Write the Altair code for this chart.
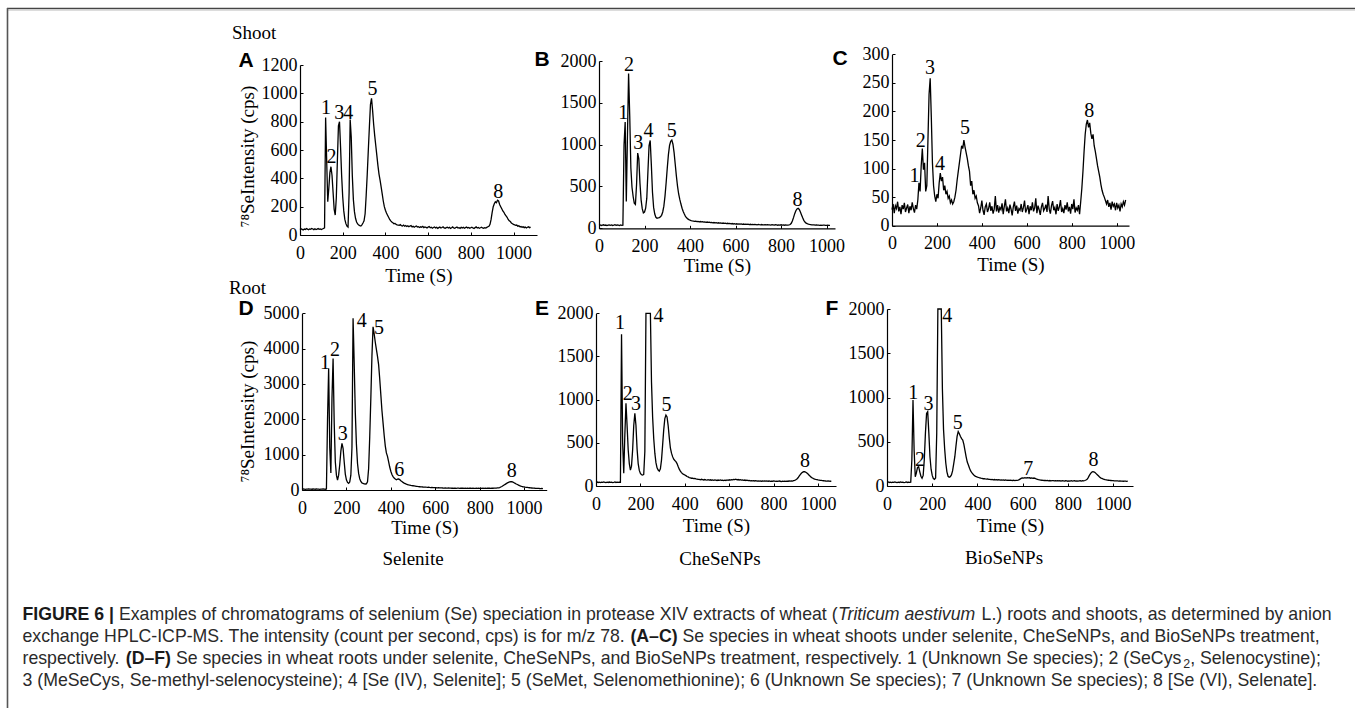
import altair as alt
import pandas as pd

STEP = 5

A_VALUES = [
    38, 44, 40, 36, 42, 39, 45, 41, 37, 43, 40, 46, 42, 38, 44, 39, 41, 45, 40, 43, 38, 42, 46,
    50, 830, 520, 235, 330, 440, 482, 420, 300, 180, 141, 260, 520, 770, 800, 620, 420, 270, 170, 110,
    80, 62, 56, 300, 815, 690, 420, 250, 165, 118, 92, 78, 70, 66, 63, 72, 85,
    100, 150, 280, 430, 600, 764, 920, 965, 880, 780, 700, 630, 560, 490, 430, 388, 340, 290, 240, 200,
    175, 155, 140, 125, 110, 100, 92, 86, 80, 82, 75, 72, 70,
    68, 73, 66, 64, 70, 62, 67, 60, 65, 58, 63, 66, 57, 61, 55, 60, 64, 56, 59, 53,
    58, 55, 61, 52, 57, 54, 50, 56, 59, 51, 55, 48, 53, 57, 50, 54, 47, 52, 56, 49,
    53, 58, 50, 47, 52, 55, 49, 54, 46, 51, 57, 50, 48, 53, 56, 49, 52, 47, 54, 50,
    55, 48, 52, 56, 49, 53, 47, 51, 55, 50, 46, 52, 57, 49, 53, 48, 51, 55, 50, 47, 52, 49, 54, 58,
    62, 75, 110, 160, 200, 220, 235, 228, 245, 240, 215, 200, 185, 170, 160, 145, 135, 125, 110, 100,
    95, 85, 80, 75, 72, 68, 70, 62, 65, 58, 60, 55, 58, 52, 56, 50, 55, 58, 52, 56,
]
B_VALUES = [
    36, 40, 34, 38, 42, 35, 39, 33, 37, 41, 36, 40, 34, 38, 43, 35, 39, 37, 33, 40, 36, 38,
    1000, 1270, 320, 1100, 1850, 1350, 720, 490, 380, 300, 285, 520, 900, 830, 540, 340, 235, 185, 195, 240,
    360, 680, 990, 1050, 760, 430, 250, 170, 132, 120, 124, 128, 138, 155, 195, 265, 385, 545, 720, 880,
    990, 1040, 1055, 1005, 905, 765, 625, 505, 410, 345, 290, 240, 200, 170, 142, 125, 112, 104, 98, 93,
    89, 87, 84, 86, 80, 82,
    78, 81, 76, 79, 74, 77, 72, 75, 70, 73, 68, 71, 66, 69, 65, 68, 63, 66, 62, 64,
    60, 63, 58, 61, 57, 60, 55, 58, 54, 57, 52, 55, 51, 54, 50, 53, 49, 52, 48, 51,
    47, 50, 46, 49, 45, 48, 44, 47, 43, 46, 45, 42, 46, 43, 41, 45, 42, 40, 44, 41,
    43, 40, 42, 39, 44, 41, 38, 42, 40, 37, 41, 39, 42, 38, 40, 37, 41, 39, 38, 40,
    45, 60, 90, 130, 175, 210, 232, 239, 225, 195, 160, 125, 95, 75, 62, 55, 50, 46, 44, 42,
    40, 41, 38, 40, 37, 39, 36, 38, 35, 37, 39, 36, 34, 37, 35, 36,
]
C_VALUES = [
    28, 38, 22, 35, 30, 42, 25, 33, 20, 36, 29, 40, 24, 31, 37, 22, 34, 27, 41, 30, 23, 36, 29,
    45, 75, 60, 105, 135, 98, 110, 60, 70, 150, 230, 258, 190, 110, 70, 52, 42, 55, 48, 75,
    92, 78, 85, 62, 70, 55, 60, 48, 52, 40, 45, 38, 42, 50, 62, 80, 95, 110, 125, 140,
    135, 150, 138, 128, 118, 105, 95, 70, 78, 55, 62, 48, 52, 40,
    35, 22, 31, 44, 27, 19, 33, 38, 24, 30, 41, 26, 34, 21, 29, 52, 25, 36, 23, 32,
    28, 39, 20, 34, 46, 25, 31, 22, 37, 29, 18, 33, 42, 26, 35, 21, 30, 27, 38, 24,
    32, 44, 23, 29, 36, 20, 34, 27, 41, 25, 31, 48, 22, 35, 28, 19, 33, 40, 26, 30,
    37, 24, 52, 29, 21, 35, 43, 27, 32, 20, 38, 26, 33, 45, 24, 30, 22, 36, 28, 41,
    25, 33, 21, 38, 29, 46, 23, 31, 27, 36, 20,
    42, 65, 95, 130, 160, 178, 185, 172, 180, 162, 152, 160, 140, 130, 118, 105, 95, 85, 72, 62,
    55, 50, 44, 38, 45, 33, 40, 28, 42, 34, 38, 27, 40, 31, 36, 25, 38, 33, 42, 36, 45,
]
D_VALUES = [
    22, 28, 25, 20, 27, 24, 30, 23, 26, 21, 28, 25, 22, 29, 24, 27, 20, 26, 23, 28, 25, 22, 27,
    2000, 3440, 1200, 480, 2600, 3720, 1900, 800, 420, 283, 420, 720, 1100, 1320, 1180, 800, 450, 290,
    215, 190, 230, 420, 1200, 4860, 3600, 2200, 1300, 750, 470, 320, 240, 200, 185, 175, 170, 172,
    230, 600, 1500, 2600, 3800, 4620, 4420, 4180, 3980, 3780, 3550, 3150, 2700, 2250, 1900, 1550,
    1250, 1050, 950, 800, 650, 530, 440, 380, 340, 310, 290, 305, 310, 295, 265, 240, 215, 195,
    180, 165, 155, 145, 138, 130, 125, 120, 115, 110, 105, 100,
    96, 92, 88, 90, 85, 82, 84, 79, 76, 78, 73, 70, 72, 68, 66, 69, 64, 62, 65, 60,
    58, 62, 57, 55, 60, 54, 52, 56, 51, 53, 50, 54, 49, 52, 48, 51, 53, 47, 50, 52,
    49, 46, 51, 48, 50, 45, 49, 52, 47, 50, 46, 48, 51, 45, 49, 47, 50, 46, 52, 48,
    50, 47, 51, 49, 53, 48, 52, 50, 55, 51, 54, 58, 62, 70, 85, 100,
    120, 140, 160, 180, 200, 215, 228, 236, 234, 222, 205, 188, 170, 155, 140, 125, 112, 100, 92, 86,
    80, 76, 72, 68, 64, 60, 57, 54, 52, 49, 47, 45, 44, 42, 41, 42, 40,
]
E_VALUES = [
    43, 46, 41, 44, 40, 45, 42, 47, 43, 39, 44, 41, 46, 42, 45, 40, 43, 47, 41, 44, 42, 45, 43,
    1757, 500, 147, 600, 958, 700, 420, 260, 185, 230, 420, 700, 842, 700, 430, 260, 180, 145, 130, 127,
    135, 400, 2600, 3000, 3000, 2800, 2200, 1200, 800, 550, 380, 270, 210, 185, 172, 200, 300, 470, 650, 780,
    822, 800, 700, 560, 440, 380, 340, 310, 295, 282, 260, 225, 195, 172, 155, 142, 135, 128, 120, 110,
    105, 98, 95, 90, 92, 85, 88, 82, 80, 77,
    76, 72, 78, 74, 70, 75, 71, 68, 73, 69, 72, 67, 70, 66, 71, 68, 64, 69, 66, 70,
    65, 68, 63, 67, 64, 70, 66, 72, 68, 74, 71, 76, 73, 78, 72, 75, 70, 73, 68, 71,
    66, 69, 64, 67, 62, 65, 60, 63, 59, 62, 58, 61, 57, 60, 56, 59, 55, 58, 57, 60,
    56, 59, 55, 58, 54, 57, 55, 59, 56, 53, 57, 54, 58, 55, 52, 56, 54, 57, 53, 56,
    55, 58, 56, 60, 57, 62, 66, 72, 82,
    95, 115, 132, 148, 158, 165, 166, 160, 150, 138, 125, 112, 100, 92, 85, 80, 76, 73, 70, 68,
    66, 64, 62, 61, 60, 58, 57, 58, 56, 55, 57,
]
F_VALUES = [
    42, 45, 40, 43, 39, 44, 41, 46, 42, 38, 43, 40, 45, 41, 44, 39, 42, 46, 40, 43, 41, 44,
    300, 972, 400, 105, 150, 210, 218, 160, 110, 87, 120, 300, 600, 820, 840, 600, 330, 190, 120, 85,
    76, 90, 600, 2600, 3000, 2800, 2100, 1100, 640, 420, 260, 160, 110, 100, 105, 125, 170, 250, 331, 450,
    560, 614, 590, 560, 535, 520, 470, 400, 330, 270, 237, 200, 170, 150, 135, 122, 112, 105, 100, 96,
    92, 88, 85, 82, 84, 80, 78, 80, 76,
    75, 72, 74, 70, 73, 69, 71, 68, 72, 67, 70, 66, 69, 65, 68, 64, 67, 63, 66, 64,
    62, 65, 61, 64, 63, 67, 72, 80, 88, 92, 90, 94, 89, 95, 91, 93, 88, 92, 86, 90,
    85, 80, 76, 72, 70, 67, 65, 63, 62, 64, 60, 63, 59, 62, 58, 61, 60, 57, 60, 58,
    61, 57, 59, 56, 60, 58, 55, 59, 57, 54, 58, 56, 60, 55, 57, 59, 56, 58, 55, 57,
    59, 56, 60, 58, 62, 68,
    75, 95, 120, 140, 155, 162, 160, 152, 140, 128, 115, 102, 92, 85, 80, 76, 72, 70, 67, 65,
    63, 62, 60, 61, 58, 59, 57, 58, 56, 57, 55, 56, 54, 56, 55, 53, 55,
]

# ---------------- peak numbers (label, time, intensity) ----------------
A_PEAK_TEXT = ["1", "2", "3", "4", "5", "8"]
A_PEAK_T = [122, 148, 184, 226, 339, 929]
A_PEAK_V = [894, 553, 859, 859, 1028, 306]
B_PEAK_TEXT = ["1", "2", "3", "4", "5", "8"]
B_PEAK_T = [107, 132, 173, 217, 320, 872]
B_PEAK_V = [1375, 1952, 1016, 1163, 1163, 338]
C_PEAK_TEXT = ["1", "2", "3", "4", "5", "8"]
C_PEAK_T = [100, 128, 169, 214, 325, 878]
C_PEAK_V = [87, 148, 276, 108, 171, 201]
D_PEAK_TEXT = ["1", "2", "3", "4", "5", "6", "8"]
D_PEAK_T = [104, 149, 183, 269, 347, 438, 945]
D_PEAK_V = [3585, 3962, 1585, 4792, 4594, 566, 547]
E_PEAK_TEXT = ["1", "2", "3", "4", "5", "8"]
E_PEAK_T = [108, 143, 180, 281, 318, 941]
E_PEAK_V = [1892, 1062, 946, 1969, 938, 290]
F_PEAK_TEXT = ["1", "2", "3", "4", "5", "7", "8"]
F_PEAK_T = [116, 146, 183, 267, 313, 625, 913]
F_PEAK_V = [1047, 294, 927, 1924, 708, 189, 294]

# ---------------- tick labels ----------------
X_TICKS = [0, 200, 400, 600, 800, 1000]
A_Y_TICKS = [0, 200, 400, 600, 800, 1000, 1200]
B_Y_TICKS = [0, 500, 1000, 1500, 2000]
C_Y_TICKS = [0, 50, 100, 150, 200, 250, 300]
D_Y_TICKS = [0, 1000, 2000, 3000, 4000, 5000]
E_Y_TICKS = [0, 500, 1000, 1500, 2000]
F_Y_TICKS = [0, 500, 1000, 1500, 2000]

Y_TITLE = "\u2077\u2078SeIntensity (cps)"
X_TITLE = "Time (S)"

CAPTION = [
    [("FIGURE 6 |", "b"),
     (" Examples of chromatograms of selenium (Se) speciation in protease XIV extracts of wheat (", "r"),
     ("Triticum aestivum", "i"),
     (" L.) roots and shoots, as determined by anion", "r")],
    [("exchange HPLC-ICP-MS. The intensity (count per second, cps) is for m/z 78. ", "r"),
     ("(A\u2013C)", "b"),
     (" Se species in wheat shoots under selenite, CheSeNPs, and BioSeNPs treatment,", "r")],
    [("respectively. ", "r"),
     ("(D\u2013F)", "b"),
     (" Se species in wheat roots under selenite, CheSeNPs, and BioSeNPs treatment, respectively. "
      "1 (Unknown Se species); 2 (SeCys", "r"),
     ("2", "s"),
     (", Selenocystine);", "r")],
    [("3 (MeSeCys, Se-methyl-selenocysteine); 4 [Se (IV), Selenite]; 5 (SeMet, Selenomethionine); "
      "6 (Unknown Se species); 7 (Unknown Se species); 8 [Se (VI), Selenate].", "r")],
]

# ---------------- styling / layout ----------------
W, H = 1355, 708
SERIF = "Liberation Serif"
SANS = "Liberation Sans"
TICK_IN = alt.ExprRef(expr="-3")

# Helvetica / Arial advance widths (1/1000 em) used to place caption runs
REG_W = {' ': 278, '(': 333, ')': 333, ',': 278, '-': 333, '.': 278, '/': 278, ':': 278, ';': 278,
         '[': 278, ']': 278, '|': 260, '\u2013': 556,
         'A': 667, 'B': 667, 'C': 722, 'D': 722, 'E': 667, 'F': 611, 'G': 778, 'H': 722, 'I': 278,
         'J': 500, 'K': 667, 'L': 556, 'M': 833, 'N': 722, 'O': 778, 'P': 667, 'Q': 778, 'R': 722,
         'S': 667, 'T': 611, 'U': 722, 'V': 667, 'W': 944, 'X': 667, 'Y': 667, 'Z': 611,
         'a': 556, 'b': 556, 'c': 500, 'd': 556, 'e': 556, 'f': 278, 'g': 556, 'h': 556, 'i': 222,
         'j': 222, 'k': 500, 'l': 222, 'm': 833, 'n': 556, 'o': 556, 'p': 556, 'q': 556, 'r': 333,
         's': 500, 't': 278, 'u': 556, 'v': 500, 'w': 722, 'x': 500, 'y': 500, 'z': 500}
BOLD_W = dict(REG_W)
BOLD_W.update({'A': 722, 'B': 722, 'C': 722, 'D': 722, 'E': 667, 'F': 611, 'G': 778, 'I': 278,
               'R': 722, 'U': 722, '|': 280, '(': 333, ')': 333})
CAP_SIZE = 17.7
CAP_X = 22.5
CAP_BASE = [620, 642, 664, 686]


def text_width(s, style, size):
    table = BOLD_W if style == "b" else REG_W
    return sum(table.get(ch, 556) for ch in s) * size / 1000.0


def caption_frame():
    rows = []
    for li, segs in enumerate(CAPTION):
        x = CAP_X
        for seg, style in segs:
            size = CAP_SIZE * 0.7 if style == "s" else CAP_SIZE
            lead = len(seg) - len(seg.lstrip(" "))
            trail = len(seg) - len(seg.rstrip(" "))
            x += lead * 278 * size / 1000.0
            core = seg.strip(" ")
            y = CAP_BASE[li] + (4 if style == "s" else 0)
            rows.append({"text": core, "x": x, "y": y, "style": style})
            x += text_width(core, style, size) + trail * 278 * size / 1000.0
    return pd.DataFrame(rows)


def panel(values, ptext, pt, pv, xmax, xr, ymax, yr, yticks, ytitle=None, ytitle_pos=None, xtitle_y=39):
    df = pd.DataFrame({"t": [i * STEP for i in range(len(values))], "v": values})
    xs = alt.Scale(domain=[0, xmax], range=xr, nice=False, zero=False)
    ys = alt.Scale(domain=[0, ymax], range=yr, nice=False, zero=False, clamp=True)
    xaxis = alt.Axis(orient="bottom", offset=yr[0] - H, values=X_TICKS, format="d",
                     title=X_TITLE, titleY=xtitle_y, titleBaseline="middle",
                     labelPadding=12, tickSize=TICK_IN)
    ykw = dict(orient="left", offset=-xr[0], values=yticks, format="d",
               labelPadding=6, tickSize=TICK_IN)
    if ytitle:
        ykw.update(title=ytitle, titleX=ytitle_pos[0], titleY=ytitle_pos[1],
                   titleAngle=270, titleBaseline="bottom", titleAlign="center")
    else:
        ykw.update(title=None)
    yaxis = alt.Axis(**ykw)
    line = alt.Chart(df).mark_line(color="black", strokeWidth=1.3).encode(
        x=alt.X("t:Q", scale=xs, axis=xaxis),
        y=alt.Y("v:Q", scale=ys, axis=yaxis),
    )
    labels = alt.Chart(pd.DataFrame({"t": pt, "v": pv, "s": ptext})).mark_text(
        font=SERIF, fontSize=20, color="black", align="center", baseline="middle"
    ).encode(
        x=alt.X("t:Q", scale=xs, axis=xaxis),
        y=alt.Y("v:Q", scale=ys, axis=yaxis),
        text="s:N",
    )
    return alt.layer(line, labels)


def note(text, x, y, font=SERIF, size=19, weight="normal", align="center"):
    return alt.Chart(pd.DataFrame({"s": [text]})).mark_text(
        font=font, fontSize=size, fontWeight=weight, align=align, baseline="middle", color="black"
    ).encode(x=alt.value(x), y=alt.value(y), text="s:N")


layers = [
    panel(A_VALUES, A_PEAK_TEXT, A_PEAK_T, A_PEAK_V, 1110, [300, 537], 1200, [235, 65], A_Y_TICKS,
          Y_TITLE, (-43, 156), 40),
    panel(B_VALUES, B_PEAK_TEXT, B_PEAK_T, B_PEAK_V, 1037, [599, 835], 2000, [228.3, 61], B_Y_TICKS,
          xtitle_y=37),
    panel(C_VALUES, C_PEAK_TEXT, C_PEAK_T, C_PEAK_V, 1055, [892, 1129], 300, [225.7, 54.3], C_Y_TICKS,
          xtitle_y=39),
    panel(D_VALUES, D_PEAK_TEXT, D_PEAK_T, D_PEAK_V, 1102, [302, 546.7], 5000, [490, 313.3], D_Y_TICKS,
          Y_TITLE, (-45, 411), 37),
    panel(E_VALUES, E_PEAK_TEXT, E_PEAK_T, E_PEAK_V, 1081, [596, 836], 2000, [486, 313.3], E_Y_TICKS,
          xtitle_y=39),
    panel(F_VALUES, F_PEAK_TEXT, F_PEAK_T, F_PEAK_V, 1088, [887, 1133], 2000, [486, 309], F_Y_TICKS,
          xtitle_y=39),
]

# row labels, panel letters, treatment labels
layers += [
    note("Shoot", 232, 33, align="left"),
    note("Root", 229, 288, align="left"),
    note("A", 246, 61, SANS, 21, "bold"),
    note("B", 542, 60, SANS, 21, "bold"),
    note("C", 840, 59, SANS, 21, "bold"),
    note("D", 246, 309, SANS, 21, "bold"),
    note("E", 542, 309, SANS, 21, "bold"),
    note("F", 832, 309, SANS, 21, "bold"),
    note("Selenite", 413, 559),
    note("CheSeNPs", 720, 559),
    note("BioSeNPs", 1004, 558),
]

# frame lines
one = pd.DataFrame({"k": [0]})
layers += [
    alt.Chart(one).mark_rule(color="#444444", strokeWidth=1.6).encode(
        x=alt.value(7), x2=alt.value(W), y=alt.value(8.5)),
    alt.Chart(one).mark_rule(color="#d0d0d0", strokeWidth=1.2).encode(
        x=alt.value(8), x2=alt.value(W), y=alt.value(10.2)),
    alt.Chart(one).mark_rule(color="#555555", strokeWidth=1.6).encode(
        x=alt.value(7.5), y=alt.value(8), y2=alt.value(H)),
]

# caption
cap = caption_frame()
cap_styles = {
    "r": dict(font=SANS, fontSize=CAP_SIZE, fontWeight="normal", fontStyle="normal", color="#2a2a2a"),
    "b": dict(font=SANS, fontSize=CAP_SIZE, fontWeight="bold", fontStyle="normal", color="#1a1a1a"),
    "i": dict(font=SANS, fontSize=CAP_SIZE, fontWeight="normal", fontStyle="italic", color="#2a2a2a"),
    "s": dict(font=SANS, fontSize=round(CAP_SIZE * 0.7, 1), fontWeight="normal", fontStyle="normal",
              color="#2a2a2a"),
}
for st, kw in cap_styles.items():
    layers.append(
        alt.Chart(cap[cap["style"] == st]).mark_text(align="left", baseline="alphabetic", **kw).encode(
            x=alt.X("x:Q", scale=None, axis=None),
            y=alt.Y("y:Q", scale=None, axis=None),
            text="text:N",
        )
    )

chart = (
    alt.layer(*layers)
    .resolve_scale(x="independent", y="independent")
    .properties(width=W, height=H, autosize=alt.AutoSizeParams(type="none"), padding=0,
                background="white")
    .configure_view(stroke=None)
    .configure_axis(
        grid=False,
        labelFont=SERIF, labelFontSize=18, labelColor="black",
        titleFont=SERIF, titleFontSize=19, titleFontWeight="normal", titleColor="black",
        domainColor="black", domainWidth=1.2, tickColor="black", tickWidth=1,
        labelFlush=False, labelOverlap=False, labelBound=False,
    )
)

chart.save("out.html", embed_options={"renderer": "svg", "actions": False})
